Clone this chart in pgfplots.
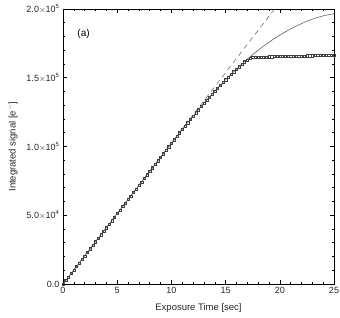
\documentclass[border=0pt]{standalone}
\usepackage{fontspec}
\setmainfont{Liberation Sans}
\usepackage{pgfplots}
\pgfplotsset{compat=1.18}
\begin{document}
\begin{tikzpicture}[x=1pt,y=1pt]
\begin{axis}[
  scale only axis,
  width=271pt, height=275pt,
  xmin=0, xmax=25, ymin=0, ymax=200000,
  xtick={0,5,10,15,20,25},
  minor x tick num=4,
  ytick={0,50000,100000,150000,200000},
  yticklabels={0.0,5.0{\footnotesize$\times$}10\textsuperscript{4},1.0{\footnotesize$\times$}10\textsuperscript{5},1.5{\footnotesize$\times$}10\textsuperscript{5},2.0{\footnotesize$\times$}10\textsuperscript{5}},
  minor y tick num=4,
  scaled y ticks=false,
  tick align=inside,
  major tick length=4pt,
  minor tick length=2pt,
  xticklabel style={font=\fontsize{9}{10}\selectfont, color=black!85, /pgf/number format/assume math mode=true},
  yticklabel style={font=\fontsize{9}{10}\selectfont, color=black!85},
  /pgf/number format/assume math mode=true,
  xlabel={Exposure Time [sec]},
  ylabel={Integrated signal [e$^{-}$]},
  label style={font=\fontsize{9.5}{11}\selectfont, color=black!85},
  xlabel style={yshift=-3pt},
  ylabel style={yshift=2pt},
  axis line style={line width=0.6pt},
  tick style={black, line width=0.5pt},
  clip=true,
]
\addplot[gray!70!black, dashed, line width=0.5pt, dash pattern=on 5pt off 4pt] coordinates {(0,0) (25,256250)};
\addplot[gray!60!black, line width=0.5pt, smooth] coordinates {
(0,0) (5,51250) (10,102500) (11,112500) (12,122200) (13,131500) (14,140300) (15,148600) (16,156300) (17,163500) (18,170000) (19,175800) (20,181000) (21,185500) (22,189400) (23,192600) (24,195000) (25,196500)};
\addplot[only marks, mark=square, mark size=1.1pt, mark options={black!75, line width=0.35pt}] coordinates {
(0,0) (0.25,2562) (0.5,5125) (0.75,7688) (1,10250) (1.25,12812) (1.5,15375) (1.75,17938)
(2,20500) (2.25,23062) (2.5,25625) (2.75,28188) (3,30750) (3.25,33312) (3.5,35875) (3.75,38438)
(4,41000) (4.25,43562) (4.5,46125) (4.75,48688) (5,51250) (5.25,53812) (5.5,56375) (5.75,58938)
(6,61500) (6.25,64062) (6.5,66625) (6.75,69188) (7,71750) (7.25,74312) (7.5,76875) (7.75,79438)
(8,82000) (8.25,84562) (8.5,87125) (8.75,89688) (9,92250) (9.25,94812) (9.5,97375) (9.75,99938)
(10,102500) (10.25,105000) (10.5,107500) (10.75,110000) (11,112500) (11.25,114925) (11.5,117350) (11.75,119775)
(12,122200) (12.25,124525) (12.5,126850) (12.75,129175) (13,131500) (13.25,133700) (13.5,135900) (13.75,138100)
(14,140300) (14.25,142375) (14.5,144450) (14.75,146525) (15,148600) (15.25,150525) (15.5,152450) (15.75,154375)
(16,156300) (16.25,158100) (16.5,159900) (16.75,161700) (17,163000) (17.25,164300) (17.5,164900) (17.75,165000)
(18,165100) (18.25,165150) (18.5,165200) (18.75,165250) (19,165300) (19.25,165350) (19.5,165400) (19.75,165450)
(20,165500) (20.25,165550) (20.5,165600) (20.75,165650) (21,165700) (21.25,165750) (21.5,165800) (21.75,165850)
(22,165900) (22.25,165950) (22.5,166000) (22.75,166050) (23,166100) (23.25,166150) (23.5,166200) (23.75,166250)
(24,166300) (24.25,166350) (24.5,166400) (24.75,166450) (25,166500)};
\node[anchor=center, font=\fontsize{10}{11}\selectfont] at (axis cs:1.9,182000) {(a)};
\end{axis}
\pgfresetboundingbox
\useasboundingbox ([shift={(-63pt,-34pt)}]current axis.south west) rectangle ([shift={(6pt,9pt)}]current axis.north east);
\end{tikzpicture}
\end{document}
